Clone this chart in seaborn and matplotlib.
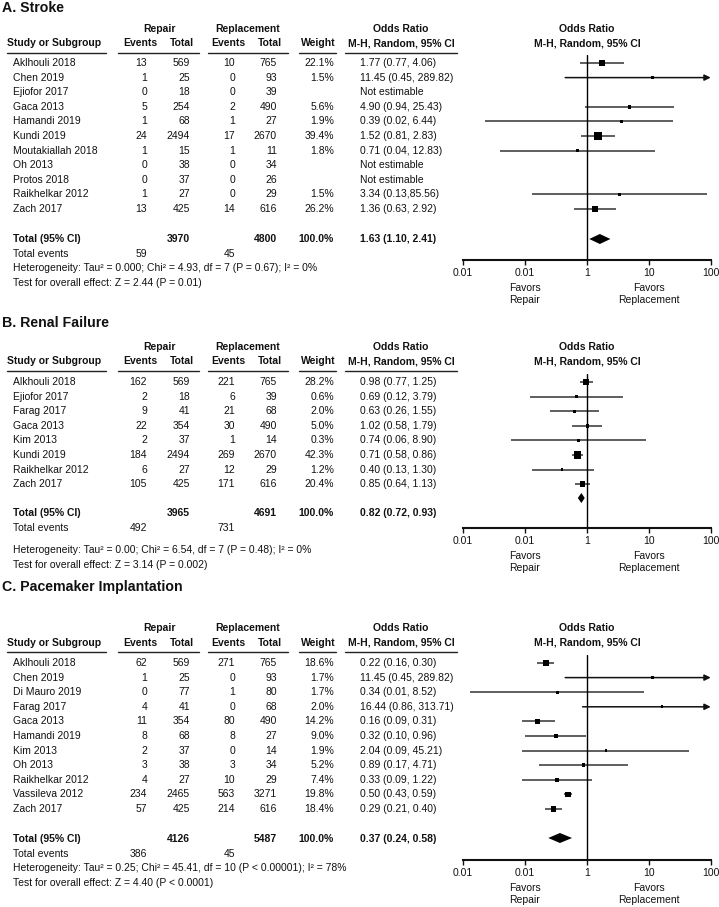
import numpy as np
import pandas as pd
import matplotlib
matplotlib.use("Agg")
import matplotlib.pyplot as plt
from matplotlib.ticker import NullLocator
import seaborn as sns

# ---- A. STROKE ----
studies_a = ["Aklhouli 2018", "Chen 2019", "Ejiofor 2017", "Gaca 2013", "Hamandi 2019", "Kundi 2019",
             "Moutakiallah 2018", "Oh 2013", "Protos 2018", "Raikhelkar 2012", "Zach 2017"]
rep_ev_a = [13, 1, 0, 5, 1, 24, 1, 0, 0, 1, 13]
rep_tot_a = [569, 25, 18, 254, 68, 2494, 15, 38, 37, 27, 425]
repl_ev_a = [10, 0, 0, 2, 1, 17, 1, 0, 0, 0, 14]
repl_tot_a = [765, 93, 39, 490, 27, 2670, 11, 34, 26, 29, 616]
weight_a = [22.1, 1.5, np.nan, 5.6, 1.9, 39.4, 1.8, np.nan, np.nan, 1.5, 26.2]
ci_text_a = ["1.77 (0.77, 4.06)", "11.45 (0.45, 289.82)", "Not estimable", "4.90 (0.94, 25.43)",
             "0.39 (0.02, 6.44)", "1.52 (0.81, 2.83)", "0.71 (0.04, 12.83)", "Not estimable",
             "Not estimable", "3.34 (0.13,85.56)", "1.36 (0.63, 2.92)"]
# odds ratios as they are drawn in the forest plot
or_a = [1.77, 11.45, np.nan, 4.90, 3.6, 1.52, 0.71, np.nan, np.nan, 3.34, 1.36]
lo_a = [0.77, 0.45, np.nan, 0.94, 0.023, 0.81, 0.04, np.nan, np.nan, 0.13, 0.63]
hi_a = [4.06, 289.82, np.nan, 25.43, 24.6, 2.83, 12.83, np.nan, np.nan, 85.56, 2.92]
total_a = ["3970", "4800", "100.0%", "1.63 (1.10, 2.41)"]
pooled_a = [1.63, 1.10, 2.41]
events_a = ["59", "45"]
het_a = "Heterogeneity: Tau\u00b2 = 0.000; Chi\u00b2 = 4.93, df = 7 (P = 0.67); I\u00b2 = 0%"
test_a = "Test for overall effect: Z = 2.44 (P = 0.01)"

# ---- B. RENAL FAILURE ----
studies_b = ["Alkhouli 2018", "Ejiofor 2017", "Farag 2017", "Gaca 2013", "Kim 2013", "Kundi 2019",
             "Raikhelkar 2012", "Zach 2017"]
rep_ev_b = [162, 2, 9, 22, 2, 184, 6, 105]
rep_tot_b = [569, 18, 41, 354, 37, 2494, 27, 425]
repl_ev_b = [221, 6, 21, 30, 1, 269, 12, 171]
repl_tot_b = [765, 39, 68, 490, 14, 2670, 29, 616]
weight_b = [28.2, 0.6, 2.0, 5.0, 0.3, 42.3, 1.2, 20.4]
ci_text_b = ["0.98 (0.77, 1.25)", "0.69 (0.12, 3.79)", "0.63 (0.26, 1.55)", "1.02 (0.58, 1.79)",
             "0.74 (0.06, 8.90)", "0.71 (0.58, 0.86)", "0.40 (0.13, 1.30)", "0.85 (0.64, 1.13)"]
or_b = [0.98, 0.69, 0.63, 1.02, 0.74, 0.71, 0.40, 0.85]
lo_b = [0.77, 0.12, 0.26, 0.58, 0.06, 0.58, 0.13, 0.64]
hi_b = [1.25, 3.79, 1.55, 1.79, 8.90, 0.86, 1.30, 1.13]
total_b = ["3965", "4691", "100.0%", "0.82 (0.72, 0.93)"]
pooled_b = [0.82, 0.72, 0.93]
events_b = ["492", "731"]
het_b = "Heterogeneity: Tau\u00b2 = 0.00; Chi\u00b2 = 6.54, df = 7 (P = 0.48); I\u00b2 = 0%"
test_b = "Test for overall effect: Z = 3.14 (P = 0.002)"

# ---- C. PACEMAKER IMPLANTATION ----
studies_c = ["Aklhouli 2018", "Chen 2019", "Di Mauro 2019", "Farag 2017", "Gaca 2013", "Hamandi 2019",
             "Kim 2013", "Oh 2013", "Raikhelkar 2012", "Vassileva 2012", "Zach 2017"]
rep_ev_c = [62, 1, 0, 4, 11, 8, 2, 3, 4, 234, 57]
rep_tot_c = [569, 25, 77, 41, 354, 68, 37, 38, 27, 2465, 425]
repl_ev_c = [271, 0, 1, 0, 80, 8, 0, 3, 10, 563, 214]
repl_tot_c = [765, 93, 80, 68, 490, 27, 14, 34, 29, 3271, 616]
weight_c = [18.6, 1.7, 1.7, 2.0, 14.2, 9.0, 1.9, 5.2, 7.4, 19.8, 18.4]
ci_text_c = ["0.22 (0.16, 0.30)", "11.45 (0.45, 289.82)", "0.34 (0.01, 8.52)", "16.44 (0.86, 313.71)",
             "0.16 (0.09, 0.31)", "0.32 (0.10, 0.96)", "2.04 (0.09, 45.21)", "0.89 (0.17, 4.71)",
             "0.33 (0.09, 1.22)", "0.50 (0.43, 0.59)", "0.29 (0.21, 0.40)"]
or_c = [0.22, 11.45, 0.34, 16.44, 0.16, 0.32, 2.04, 0.89, 0.33, 0.50, 0.29]
lo_c = [0.16, 0.45, 0.013, 0.86, 0.09, 0.10, 0.09, 0.17, 0.09, 0.43, 0.21]
hi_c = [0.30, 289.82, 8.52, 313.71, 0.31, 0.96, 45.21, 4.71, 1.22, 0.59, 0.40]
total_c = ["4126", "5487", "100.0%", "0.37 (0.24, 0.58)"]
pooled_c = [0.37, 0.24, 0.58]
events_c = ["386", "45"]
het_c = "Heterogeneity: Tau\u00b2 = 0.25; Chi\u00b2 = 45.41, df = 10 (P < 0.00001); I\u00b2 = 78%"
test_c = "Test for overall effect: Z = 4.40 (P < 0.0001)"

tick_vals = [0.01, 0.1, 1, 10, 100]
tick_labels = ["0.01", "0.01", "1", "10", "100"]

sns.set_theme(style="white")
plt.rcParams["font.family"] = ["Liberation Sans", "DejaVu Sans"]

W, H = 719, 907
FS = 7.5
DY = 14.6
TXT = "#111111"
LINE = "#333333"
FX0, FX1 = 462.7, 710.7   # pixel span of the forest axis (0.01 .. 100)

fig = plt.figure(figsize=(W / 100, H / 100), dpi=100)
tab = fig.add_axes([0, 0, 1, 1])
tab.set_xlim(0, W)
tab.set_ylim(H, 0)
tab.axis("off")


def t(x, y, s, ha="left", bold=False, size=FS):
    tab.text(x, y, s, ha=ha, va="center", fontsize=size, color=TXT,
             fontweight="bold" if bold else "normal")


def draw_panel(title, title_y, head_y, row0, total_y, het_y, diamond_y, vtop, axis_y,
               studies, rep_ev, rep_tot, repl_ev, repl_tot, weight, ci_text, est, lo, hi,
               totals, pooled, events, het, test):
    t(2, title_y, title, bold=True, size=10.2)
    # headers
    t(160, head_y, "Repair", ha="center", bold=True)
    t(248, head_y, "Replacement", ha="center", bold=True)
    t(401, head_y, "Odds Ratio", ha="center", bold=True)
    t(587, head_y, "Odds Ratio", ha="center", bold=True)
    h2 = head_y + 14.5
    t(7, h2, "Study or Subgroup", bold=True)
    t(140, h2, "Events", ha="center", bold=True)
    t(182, h2, "Total", ha="center", bold=True)
    t(228, h2, "Events", ha="center", bold=True)
    t(270, h2, "Total", ha="center", bold=True)
    t(318, h2, "Weight", ha="center", bold=True)
    t(401, h2, "M-H, Random, 95% CI", ha="center", bold=True)
    t(587, h2, "M-H, Random, 95% CI", ha="center", bold=True)
    for a, b in [(7, 106), (118, 199), (208, 288), (299, 336), (345, 457)]:
        tab.plot([a, b], [h2 + 9, h2 + 9], color="#222222", lw=1)

    ys = row0 + DY * np.arange(len(studies))
    for i, y in enumerate(ys):
        t(13, y, studies[i])
        t(147, y, str(rep_ev[i]), ha="right")
        t(190, y, str(rep_tot[i]), ha="right")
        t(235, y, str(repl_ev[i]), ha="right")
        t(277, y, str(repl_tot[i]), ha="right")
        if not np.isnan(weight[i]):
            t(334, y, f"{weight[i]:.1f}%", ha="right")
        t(360, y, ci_text[i])

    t(13, total_y, "Total (95% CI)", bold=True)
    t(190, total_y, totals[0], ha="right", bold=True)
    t(277, total_y, totals[1], ha="right", bold=True)
    t(334, total_y, totals[2], ha="right", bold=True)
    t(360, total_y, totals[3], bold=True)
    t(13, total_y + DY, "Total events")
    t(147, total_y + DY, events[0], ha="right")
    t(235, total_y + DY, events[1], ha="right")
    t(13, het_y, het)
    t(13, het_y + DY + 0.4, test)

    # forest plot
    fa = fig.add_axes([FX0 / W, 1 - axis_y / H, (FX1 - FX0) / W, (axis_y - vtop) / H])
    fa.patch.set_alpha(0)
    df = pd.DataFrame({"y": ys, "est": est, "lo": lo, "hi": hi, "weight": weight}).dropna()
    for _, r in df.iterrows():
        if r.hi > 100:
            fa.annotate("", xy=(100, r.y), xytext=(r.lo, r.y), annotation_clip=False,
                        arrowprops=dict(arrowstyle="-|>", color="#111111", lw=1.1,
                                        mutation_scale=9, shrinkA=0, shrinkB=0))
        else:
            fa.plot([r.lo, r.hi], [r.y, r.y], color=LINE, lw=1.1, solid_capstyle="butt")
    sns.scatterplot(data=df, x="est", y="y", size="weight", sizes=(3, 30), size_norm=(0.3, 42.3),
                    marker="s", color="black", linewidth=0, legend=False, ax=fa, zorder=3)
    p, plo, phi = pooled
    fa.fill([plo, p, phi, p], [diamond_y, diamond_y - 5, diamond_y, diamond_y + 5],
            color="black", lw=0, zorder=4)
    fa.axvline(1, color="black", lw=1, zorder=2)

    fa.set_xscale("log")
    fa.set_xlim(0.01, 100)
    fa.set_ylim(axis_y, vtop)
    fa.set_xlabel("")
    fa.set_ylabel("")
    fa.set_yticks([])
    fa.set_xticks(tick_vals)
    fa.set_xticklabels(tick_labels)
    fa.xaxis.set_minor_locator(NullLocator())
    fa.tick_params(axis="x", bottom=True, direction="out", length=3.6, width=1, pad=2.5,
                   labelsize=FS, colors="#111111")
    for s in ["left", "right", "top"]:
        fa.spines[s].set_visible(False)
    fa.spines["bottom"].set_linewidth(1.5)
    fa.spines["bottom"].set_color("#111111")
    fa.text(0.1, axis_y + 34, "Favors\nRepair", ha="center", va="center", fontsize=FS, color=TXT)
    fa.text(10, axis_y + 34, "Favors\nReplacement", ha="center", va="center", fontsize=FS, color=TXT)


draw_panel("A. Stroke", 8, 29, 63, 239, 268, 239, 55, 260,
           studies_a, rep_ev_a, rep_tot_a, repl_ev_a, repl_tot_a, weight_a, ci_text_a,
           or_a, lo_a, hi_a, total_a, pooled_a, events_a, het_a, test_a)
draw_panel("B. Renal Failure", 323, 347, 382, 513, 550, 498, 374, 528,
           studies_b, rep_ev_b, rep_tot_b, repl_ev_b, repl_tot_b, weight_b, ci_text_b,
           or_b, lo_b, hi_b, total_b, pooled_b, events_b, het_b, test_b)
draw_panel("C. Pacemaker Implantation", 587, 628, 663, 839, 868, 838, 655, 860,
           studies_c, rep_ev_c, rep_tot_c, repl_ev_c, repl_tot_c, weight_c, ci_text_c,
           or_c, lo_c, hi_c, total_c, pooled_c, events_c, het_c, test_c)

fig.savefig("out.png", dpi=100)
